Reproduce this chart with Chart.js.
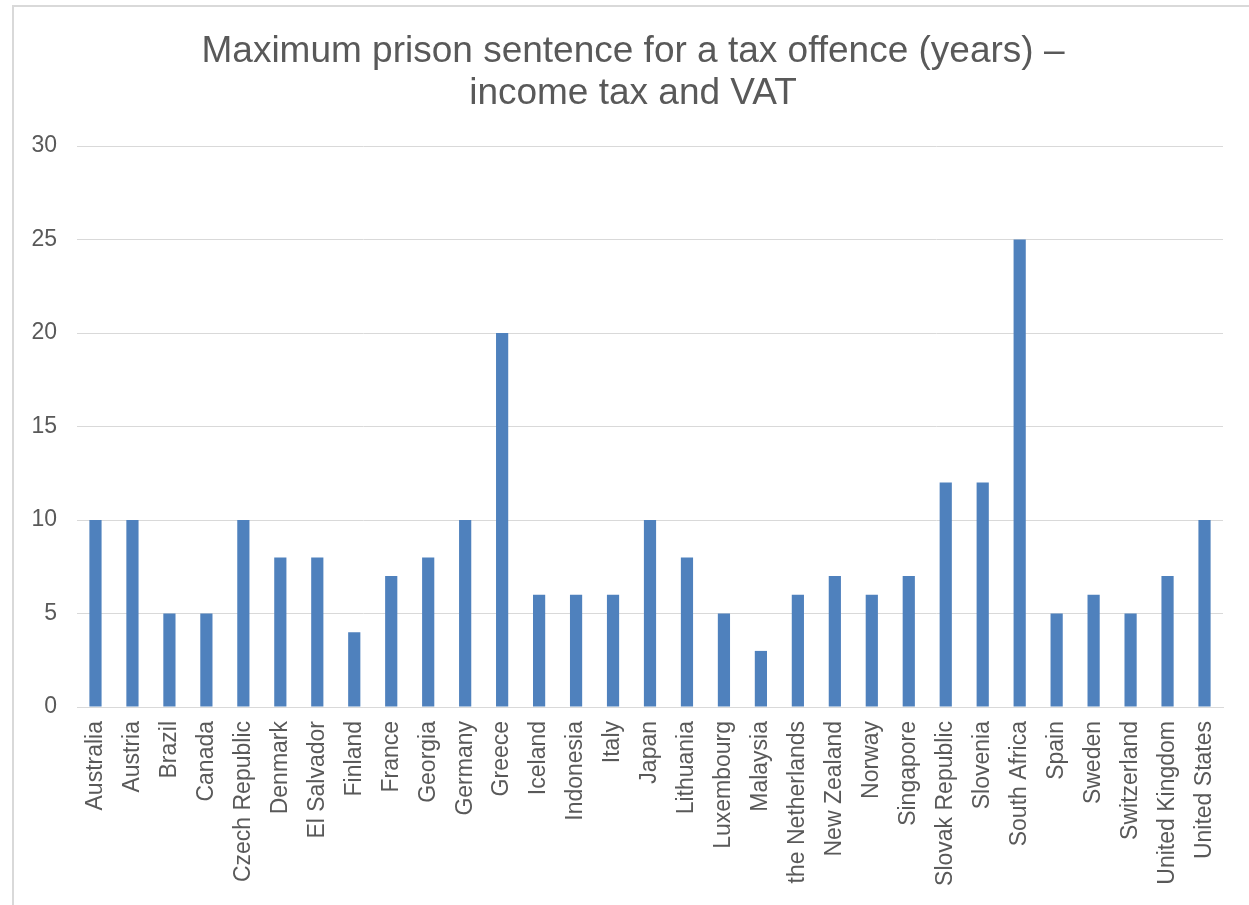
<!DOCTYPE html>
<html>
<head>
<meta charset="utf-8">
<script src="https://cdn.jsdelivr.net/npm/chart.js@4.4.0/dist/chart.umd.min.js"></script>
<style>
  html, body { margin: 0; padding: 0; background: #ffffff; overflow: hidden; }
  #frame { position: absolute; left: 12px; top: 5px; width: 1300px; height: 1000px; border: 2px solid #d9d9d9; box-sizing: border-box; }
  #wrap { position: absolute; left: 0; top: 0; width: 1249px; height: 905px; }
</style>
</head>
<body>
<div id="frame"></div>
<div id="wrap"><canvas id="c"></canvas></div>
<script>
const titleLines = ["Maximum prison sentence for a tax offence (years) –", "income tax and VAT"];
const countries = ["Australia", "Austria", "Brazil", "Canada", "Czech Republic", "Denmark", "El Salvador", "Finland", "France", "Georgia", "Germany", "Greece", "Iceland", "Indonesia", "Italy", "Japan", "Lithuania", "Luxembourg", "Malaysia", "the Netherlands", "New Zealand", "Norway", "Singapore", "Slovak Republic", "Slovenia", "South Africa", "Spain", "Sweden", "Switzerland", "United Kingdom", "United States"];
const maxSentenceYears = [10, 10, 5, 5, 10, 8, 8, 4, 7, 8, 10, 20, 6, 6, 6, 10, 8, 5, 3, 6, 7, 6, 7, 12, 12, 25, 5, 6, 5, 7, 10];
const yTicks = [0, 5, 10, 15, 20, 25, 30];

const FONT = "'Liberation Sans', Arial, sans-serif";
const TEXT = "#595959";
const GRID = "#d9d9d9";

const titleShift = {
  id: "titleShift",
  afterLayout(chart) {
    const t = chart.titleBlock;
    if (t) { t.left = 43; t.right = chart.chartArea.right; }
  }
};

new Chart(document.getElementById("c"), {
  type: "bar",
  data: {
    labels: countries,
    datasets: [{
      label: "Maximum prison sentence (years)",
      data: maxSentenceYears,
      backgroundColor: "#4F81BD",
      borderWidth: 0,
      barPercentage: 1,
      categoryPercentage: 0.33
    }]
  },
  plugins: [titleShift],
  options: {
    responsive: true,
    maintainAspectRatio: false,
    animation: false,
    layout: { padding: { left: 20, right: 26, top: 0, bottom: 0 } },
    plugins: {
      legend: { display: false },
      tooltip: { enabled: false },
      title: {
        display: true,
        text: titleLines,
        color: TEXT,
        font: { family: FONT, size: 37, weight: "normal", lineHeight: "42px" },
        padding: { top: 31, bottom: 31 }
      }
    },
    scales: {
      x: {
        grid: { display: false, drawTicks: false },
        border: { display: true, color: GRID, width: 1 },
        ticks: {
          autoSkip: false,
          minRotation: 90,
          maxRotation: 90,
          padding: 14,
          color: TEXT,
          font: { family: FONT, size: 23 }
        },
        afterFit: (s) => { s.height = 198; }
      },
      y: {
        min: 0,
        max: 30,
        afterBuildTicks: (s) => { s.ticks = yTicks.map(v => ({ value: v })); },
        grid: { color: GRID, lineWidth: 1, drawTicks: false },
        border: { display: false },
        ticks: {
          padding: 20,
          color: TEXT,
          font: { family: FONT, size: 23 }
        },
        afterFit: (s) => { s.width = 57; }
      }
    }
  }
});
</script>
</body>
</html>
